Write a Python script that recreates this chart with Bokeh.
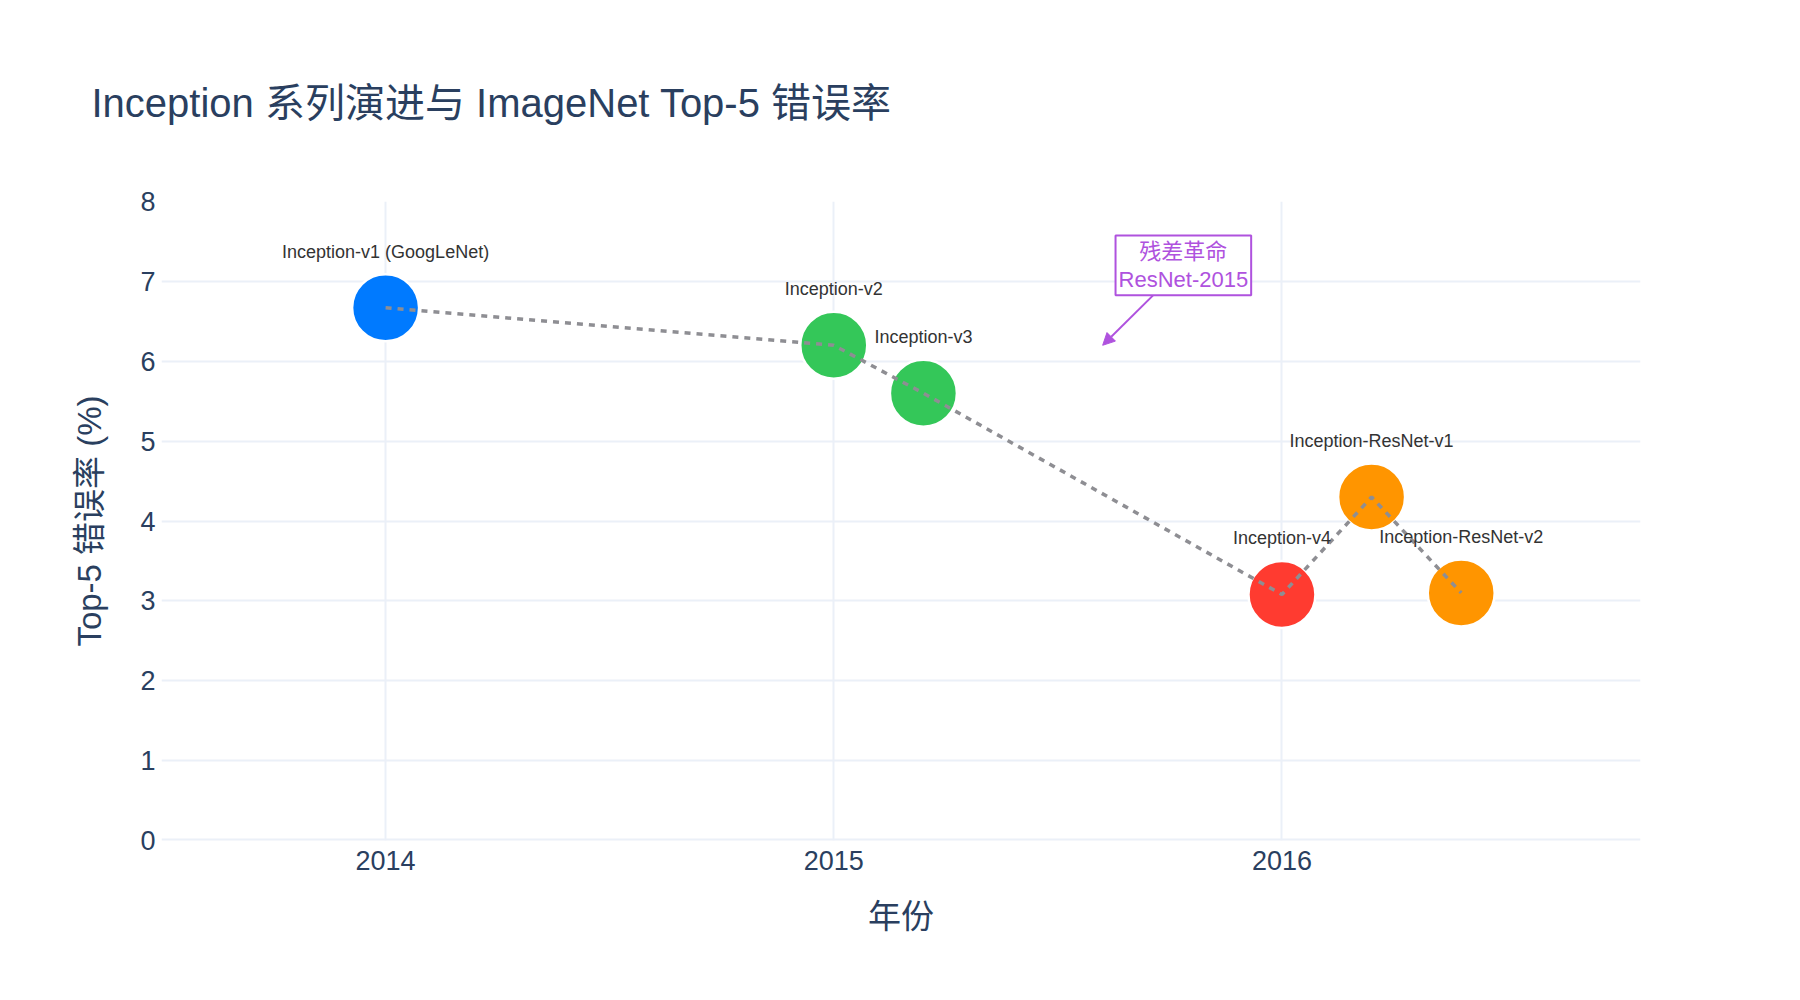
from bokeh.plotting import figure
from bokeh.models import FixedTicker, Label, Arrow, NormalHead, Span, ColumnDataSource, Range1d
from bokeh.core.properties import value
from bokeh.embed import file_html
from bokeh.resources import INLINE

# Inception family: release year vs. ImageNet top-5 error (%)
models = [
    "Inception-v1 (GoogLeNet)",
    "Inception-v2",
    "Inception-v3",
    "Inception-v4",
    "Inception-ResNet-v1",
    "Inception-ResNet-v2",
]
years = [2014.0, 2015.0, 2015.2, 2016.0, 2016.2, 2016.4]
top5_error = [6.67, 6.2, 5.6, 3.08, 4.3, 3.1]
colors = ["#007AFF", "#34C759", "#34C759", "#FF3B30", "#FF9500", "#FF9500"]

x_ticks = [2014, 2015, 2016]
x_tick_labels = ["2014", "2015", "2016"]
y_ticks = [0, 1, 2, 3, 4, 5, 6, 7, 8]

note_text = "残差革命\nResNet-2015"
note_x, note_y = 2015.6, 6.2          # arrow tip
note_box_x, note_box_y = 2015.78, 7.2  # centre of the text box

FONT = "Liberation Sans, Noto Sans CJK SC, sans-serif"
INK = "#2a3f5f"
GRID = "#EBF0F8"
PURPLE = "#AF52DE"

W, H = 1800, 1000
LEFT, RIGHT, TOP, BOTTOM = 161, 160, 201, 160
X0, X1 = 2013.5, 2016.8
Y0, Y1 = 0, 8

p = figure(
    width=W, height=H,
    x_range=Range1d(X0, X1), y_range=Range1d(Y0, Y1),
    output_backend="svg", toolbar_location=None,
    min_border_left=LEFT, min_border_right=RIGHT,
    min_border_top=TOP, min_border_bottom=BOTTOM,
    background_fill_color="white", border_fill_color="white",
    outline_line_color=None,
    title="Inception 系列演进与 ImageNet Top-5 错误率",
)

# title
p.title.text_font = FONT
p.title.text_font_size = "40px"
p.title.text_font_style = "normal"
p.title.text_color = INK
p.title.align = "left"
p.title.vertical_align = "top"
p.title.offset = 91 - LEFT
p.title.standoff = 150

# axes
for ax in (p.xaxis, p.yaxis):
    ax.axis_line_color = None
    ax.major_tick_line_color = None
    ax.minor_tick_line_color = None
    ax.major_label_text_font = FONT
    ax.major_label_text_font_size = "27px"
    ax.major_label_text_color = INK
    ax.axis_label_text_font = FONT
    ax.axis_label_text_font_size = "33px"
    ax.axis_label_text_font_style = "normal"
    ax.axis_label_text_color = INK

p.xaxis.ticker = FixedTicker(ticks=x_ticks)
p.xaxis.major_label_overrides = {t: s for t, s in zip(x_ticks, x_tick_labels)}
p.xaxis.axis_label = "年份"
p.xaxis.major_label_standoff = 4
p.xaxis.axis_label_standoff = 25

p.yaxis.ticker = FixedTicker(ticks=y_ticks)
p.yaxis.axis_label = "Top-5 错误率 (%)"
p.yaxis.major_label_standoff = 0
p.yaxis.axis_label_standoff = 29

# grid
p.xgrid.ticker = FixedTicker(ticks=x_ticks)
p.ygrid.ticker = FixedTicker(ticks=[t for t in y_ticks if Y0 < t < Y1])
for g in (p.xgrid, p.ygrid):
    g.grid_line_color = GRID
    g.grid_line_width = 2
p.add_layout(Span(location=0, dimension="width", line_color=GRID, line_width=4))

src = ColumnDataSource(dict(x=years, y=top5_error, color=colors, label=models))

p.scatter("x", "y", source=src, size=67, fill_color="color",
          line_color="white", line_width=2.5)
p.line(years, top5_error, line_color="#8E8E93", line_width=3.5, line_dash="6 6")
p.text("x", "y", text="label", source=src, text_align="center",
       text_baseline="middle", y_offset=-56, text_font=value(FONT),
       text_font_size="18px", text_color="#333333")

# pixel scale of the plot frame
frame_h = H - TOP - BOTTOM
px_y = frame_h / (Y1 - Y0)

# callout with arrow
box_half_h = 29
dy_px = (note_box_y - note_y) * px_y
f = (dy_px - box_half_h) / dy_px
arrow_sx = note_x + f * (note_box_x - note_x)
arrow_sy = note_y + f * (note_box_y - note_y)
p.add_layout(Arrow(
    end=NormalHead(size=12, fill_color=PURPLE, line_color=PURPLE, line_width=1),
    x_start=arrow_sx, y_start=arrow_sy, x_end=note_x, y_end=note_y,
    line_color=PURPLE, line_width=2,
))
p.add_layout(Label(
    x=note_box_x, y=note_box_y, text=note_text,
    text_align="center", text_baseline="middle",
    text_font=FONT, text_font_size="22px", text_color=PURPLE,
    text_line_height=1.15,
    background_fill_color="white", border_line_color=PURPLE,
    border_line_width=2, padding=3,
))

open("out.html", "w").write(file_html(p, INLINE))
